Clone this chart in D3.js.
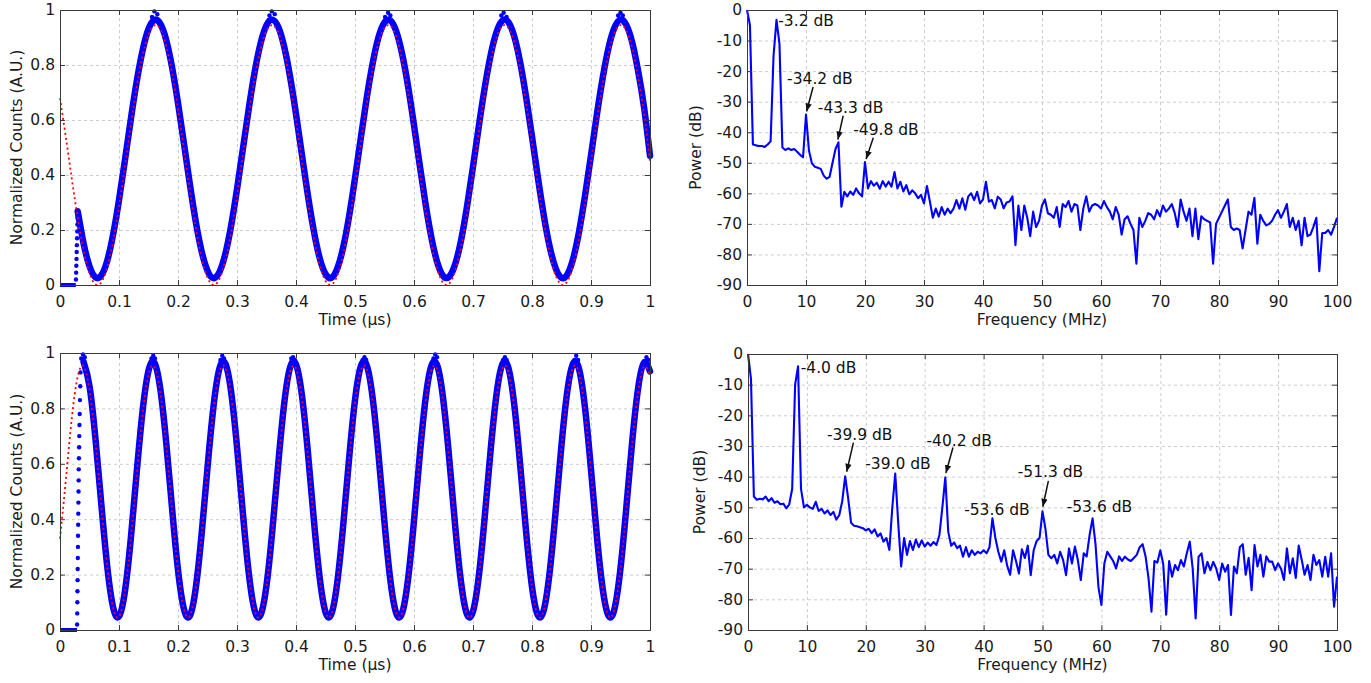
<!DOCTYPE html>
<html lang="en">
<head>
  <meta charset="UTF-8">
  <title>Normalized counts and power spectra</title>
  <style>
    body { margin: 0; background: #fff; }
    svg { display: block; }
  </style>
</head>
<body>
  <div id="chart"></div>
  <script src="https://d3js.org/d3.v7.min.js"></script>
  <script>

    const width = 1371,
          height = 683;

    // ---- time traces, read every 0.01 us ----
    const timeStep = 0.01;

    // top: fit (red dotted) from t = 0
    const topFit = [
      0.679, 0.536, 0.386, 0.245, 0.126, 0.043, 0.003, 0.010, 0.064, 0.159,
      0.285, 0.430, 0.580, 0.719, 0.833, 0.910, 0.944, 0.930, 0.870, 0.770,
      0.640, 0.494, 0.345, 0.209, 0.099, 0.027, 0.000, 0.021, 0.087, 0.191,
      0.325, 0.473, 0.621, 0.754, 0.858, 0.924, 0.945, 0.918, 0.846, 0.736,
      0.600, 0.451, 0.305, 0.175, 0.075, 0.015, 0.001, 0.035, 0.112, 0.226,
      0.365, 0.515, 0.660, 0.787, 0.881, 0.935, 0.942, 0.902, 0.818, 0.700,
      0.559, 0.409, 0.266, 0.143, 0.054, 0.006, 0.006, 0.052, 0.141, 0.263,
      0.407, 0.557, 0.698, 0.817, 0.901, 0.942, 0.935, 0.883, 0.788, 0.662,
      0.517, 0.368, 0.229, 0.114, 0.036, 0.001, 0.014, 0.073, 0.173, 0.302,
      0.449, 0.598, 0.734, 0.844, 0.917, 0.945, 0.925, 0.860, 0.756, 0.623,
      0.450
    ];
    // top: measured counts (blue) from t = 0.03
    const topCountsStart = 0.03;
    const topCounts = [
      0.268, 0.151, 0.068, 0.028, 0.035, 0.088, 0.183,
      0.309, 0.453, 0.602, 0.740, 0.853, 0.931, 0.964, 0.950, 0.891, 0.791,
      0.662, 0.516, 0.368, 0.232, 0.123, 0.052, 0.025, 0.046, 0.111, 0.215,
      0.348, 0.495, 0.642, 0.775, 0.879, 0.945, 0.965, 0.938, 0.866, 0.757,
      0.622, 0.474, 0.328, 0.199, 0.099, 0.040, 0.026, 0.060, 0.137, 0.250,
      0.388, 0.537, 0.682, 0.807, 0.902, 0.955, 0.962, 0.922, 0.839, 0.722,
      0.581, 0.432, 0.289, 0.167, 0.078, 0.031, 0.031, 0.077, 0.165, 0.287,
      0.430, 0.579, 0.719, 0.837, 0.921, 0.962, 0.956, 0.903, 0.809, 0.684,
      0.540, 0.391, 0.253, 0.139, 0.061, 0.026, 0.039, 0.098, 0.197, 0.326,
      0.471, 0.620, 0.755, 0.865, 0.937, 0.965, 0.945, 0.881, 0.777, 0.645,
      0.470
    ];
    // top: flat start, rising edge and the scatter on the crests
    const topBaseT = [0, 0.0268];
    const topBaseV = [0, 0];
    const topRiseT = [0.0271, 0.0274, 0.0277, 0.0280, 0.0283, 0.0286, 0.0289, 0.0292, 0.0295, 0.0298];
    const topRiseV = [0.02, 0.045, 0.07, 0.095, 0.12, 0.145, 0.17, 0.195, 0.22, 0.245];
    const topCrestT = [0.156, 0.160, 0.165, 0.355, 0.359, 0.364, 0.551, 0.556, 0.560,
                       0.748, 0.752, 0.757, 0.946, 0.950, 0.954];
    const topCrestV = [0.975, 0.995, 0.985, 0.980, 0.995, 0.985, 0.975, 0.990, 0.980,
                       0.980, 0.990, 0.975, 0.980, 0.990, 0.980];

    // bottom: fit from t = 0
    const bottomFit = [
      0.330, 0.544, 0.765, 0.915, 0.953, 0.867, 0.682, 0.448, 0.228, 0.081,
      0.048, 0.138, 0.325, 0.560, 0.779, 0.922, 0.950, 0.857, 0.667, 0.431,
      0.215, 0.075, 0.051, 0.148, 0.341, 0.577, 0.792, 0.928, 0.948, 0.846,
      0.651, 0.415, 0.202, 0.069, 0.054, 0.159, 0.357, 0.593, 0.804, 0.933,
      0.944, 0.835, 0.635, 0.398, 0.189, 0.064, 0.057, 0.171, 0.373, 0.610,
      0.817, 0.938, 0.941, 0.824, 0.619, 0.382, 0.177, 0.060, 0.062, 0.182,
      0.389, 0.626, 0.829, 0.942, 0.936, 0.812, 0.603, 0.366, 0.166, 0.056,
      0.066, 0.195, 0.405, 0.642, 0.840, 0.946, 0.931, 0.799, 0.586, 0.350,
      0.154, 0.052, 0.072, 0.207, 0.422, 0.658, 0.851, 0.949, 0.925, 0.786,
      0.570, 0.334, 0.144, 0.050, 0.078, 0.220, 0.438, 0.673, 0.861, 0.951,
      0.919
    ];
    // bottom: measured counts from t = 0.04
    const bottomCountsStart = 0.04;
    const bottomCounts = [
      0.968, 0.881, 0.693, 0.455, 0.231, 0.082,
      0.049, 0.139, 0.330, 0.569, 0.791, 0.936, 0.965, 0.870, 0.677, 0.438,
      0.217, 0.076, 0.051, 0.150, 0.346, 0.586, 0.804, 0.942, 0.963, 0.860,
      0.661, 0.421, 0.204, 0.070, 0.054, 0.161, 0.362, 0.602, 0.817, 0.948,
      0.959, 0.848, 0.645, 0.404, 0.192, 0.065, 0.058, 0.173, 0.378, 0.619,
      0.830, 0.953, 0.955, 0.836, 0.629, 0.388, 0.179, 0.060, 0.062, 0.185,
      0.395, 0.636, 0.842, 0.957, 0.951, 0.824, 0.612, 0.371, 0.168, 0.056,
      0.067, 0.197, 0.411, 0.652, 0.853, 0.961, 0.946, 0.812, 0.595, 0.355,
      0.156, 0.053, 0.072, 0.210, 0.428, 0.668, 0.864, 0.964, 0.940, 0.799,
      0.579, 0.339, 0.146, 0.050, 0.078, 0.223, 0.445, 0.684, 0.875, 0.966,
      0.934
    ];
    const bottomBaseT = [0, 0.0288];
    const bottomBaseV = [0, 0];
    const bottomRiseT = [0.0290, 0.0292, 0.0294, 0.0296, 0.0298, 0.0300, 0.0302, 0.0304, 0.0306, 0.0308,
                         0.0310, 0.0312, 0.0314, 0.0316, 0.0318, 0.0321, 0.0324, 0.0327, 0.0330, 0.0334,
                         0.0338, 0.0343, 0.0348];
    const bottomRiseV = [0.02, 0.06, 0.10, 0.14, 0.18, 0.22, 0.26, 0.30, 0.34, 0.38,
                         0.42, 0.46, 0.50, 0.54, 0.58, 0.62, 0.66, 0.70, 0.74, 0.78,
                         0.83, 0.88, 0.93];
    const bottomCrestT = [0.036, 0.039, 0.042, 0.155, 0.158, 0.161, 0.272, 0.275, 0.278,
                          0.392, 0.395, 0.398, 0.513, 0.516, 0.519, 0.633, 0.636, 0.639,
                          0.751, 0.754, 0.757, 0.872, 0.875, 0.878, 0.990, 0.994, 0.997];
    const bottomCrestV = [0.980, 0.995, 0.985, 0.980, 0.990, 0.980, 0.975, 0.990, 0.980,
                          0.980, 0.985, 0.975, 0.975, 0.985, 0.975, 0.980, 0.995, 0.985,
                          0.975, 0.985, 0.975, 0.975, 0.990, 0.975, 0.970, 0.985, 0.975];

    // ---- power spectra, read every 0.5 MHz from 0 to 100 ----
    const freqStep = 0.5;
    const topPower = [
      0, -5, -44, -44.3, -44.5, -44.5, -44.8, -44, -43, -15,
      -3.2, -11, -45, -45.8, -45.3, -45.8, -45.5, -46.4, -47.4, -48.2,
      -34.2, -46, -50.2, -51.3, -51.6, -52, -54.2, -55.2, -54.6, -50,
      -45.5, -43.3, -64.4, -59.5, -61, -59.4, -60.5, -58.4, -60, -61,
      -49.8, -58.4, -56, -57.5, -56.5, -58.5, -56, -57.8, -56.2, -57.8,
      -53, -58.4, -56.2, -59.4, -57.3, -60.3, -59, -60, -61.6, -60.5,
      -63.3, -57.6, -62.7, -68, -65, -67.6, -64.5, -67, -65, -66.5,
      -65, -62.2, -65, -61.6, -65.4, -61, -60, -62.2, -59.5, -63.3,
      -62, -56.2, -62.7, -62.2, -64.9, -61.1, -62, -64.9, -63, -62.7,
      -61, -77, -64, -72, -64, -68, -74, -66, -71, -69,
      -64, -62, -66.5, -67, -68, -64.5, -71, -63.5, -64.5, -62.5,
      -66, -63.5, -64, -72, -65, -61, -66, -64, -63.5, -64,
      -65, -62.5, -64.5, -66, -68.5, -64.5, -67, -73.5, -68.5, -67.5,
      -70, -72, -83, -68, -71, -69, -66.5, -67, -68.5, -65.5,
      -67.5, -64, -66, -65, -63.5, -66.5, -71, -62, -66, -69,
      -65, -74, -65, -75, -67.5, -68.5, -69, -69.5, -83, -70,
      -68, -66, -64, -62, -71, -72, -71.5, -72, -78, -72,
      -66, -67, -61.5, -76.5, -67, -69, -70.5, -70, -69, -67,
      -65.5, -68, -66, -63.5, -71, -68, -72, -69, -77, -68,
      -74, -73.5, -71, -68, -85.5, -73, -73, -72, -73.5, -71,
      -68
    ];
    const bottomPower = [
      0, -8, -46.5, -47.5, -47.2, -47.4, -46.5, -48, -47, -48.5,
      -48, -49, -48.8, -50.3, -49, -44, -10, -4.0, -44, -50,
      -49.2, -50, -50.5, -48.2, -51.2, -50.5, -52, -51, -52.5, -51.5,
      -54, -52.5, -48, -39.9, -47, -55, -56, -56.2, -56.5, -56.8,
      -57.5, -57, -58.4, -57.2, -59.5, -58.5, -61.2, -60, -63.9, -50,
      -39.0, -55, -69.3, -60, -65.5, -61, -63.9, -60.5, -63, -60.8,
      -62.8, -61.5, -62.5, -61.3, -62.3, -59, -50, -40.2, -58, -62.5,
      -61.5, -63.3, -62.5, -66.1, -63, -66.1, -64, -65.5, -64.5, -65,
      -64, -65, -63, -53.6, -60, -64.5, -67.7, -64, -69, -72,
      -64, -67.5, -71.6, -63.7, -66.5, -62.5, -72.1, -64, -61, -60,
      -51.3, -57, -65.5, -66.6, -65.5, -68.3, -64.5, -67.2, -72.1, -63.4,
      -68.3, -62.8, -67.2, -73.7, -65, -66, -59, -53.6, -62, -76,
      -81.8, -68.3, -64.5, -66, -67.5, -69.9, -66, -67.5, -66.1, -67,
      -67.5, -66.5, -65.5, -63, -62, -66, -73.1, -84, -67.5, -68,
      -64, -68.5, -85, -67.5, -72.6, -68.8, -70.5, -67.2, -69.3, -65,
      -61.2, -70, -86.2, -66.1, -65, -71.5, -67.8, -70.5, -67.8, -70,
      -73.7, -68.3, -71, -68.8, -85.1, -69.3, -71.5, -63, -62, -72,
      -66.5, -77, -62.3, -69.3, -65.5, -72.6, -66, -67.7, -67.7, -70.5,
      -68.3, -70, -73.7, -63.4, -71.5, -66.6, -73, -62.5, -67, -72,
      -68.8, -73.7, -65.5, -68.8, -67.2, -72.6, -66.1, -72.6, -65, -82.4,
      -72.6
    ];

    // peak labels
    const topPeakLabels = ["-3.2 dB", "-34.2 dB", "-43.3 dB", "-49.8 dB"];
    const bottomPeakLabels = ["-4.0 dB", "-39.9 dB", "-39.0 dB", "-40.2 dB", "-53.6 dB", "-51.3 dB", "-53.6 dB"];

    // tick values
    const timeTicks = [0, 0.1, 0.2, 0.3, 0.4, 0.5, 0.6, 0.7, 0.8, 0.9, 1];
    const countTicks = [0, 0.2, 0.4, 0.6, 0.8, 1];
    const freqTicks = [0, 10, 20, 30, 40, 50, 60, 70, 80, 90, 100];
    const powerTicks = [-90, -80, -70, -60, -50, -40, -30, -20, -10, 0];

    // ---- layout ----
    const fontSize = 15.5;
    const boxes = {
      tl: {left: 60, right: 650, top: 10, bottom: 285},
      tr: {left: 747, right: 1337, top: 10, bottom: 285},
      bl: {left: 60, right: 650, top: 353, bottom: 630},
      br: {left: 748, right: 1337, top: 354, bottom: 630}
    };
    // label text anchor (freq, dB) and optional arrow [f0, db0, f1, db1]
    const topLabelLayout = [
      {f: 5.3, db: -5.2, arrow: null},
      {f: 6.8, db: -24.2, arrow: [11.2, -25.2, 10.1, -33.2]},
      {f: 12.0, db: -33.7, arrow: [16.3, -34.6, 15.4, -42.4]},
      {f: 18.0, db: -40.9, arrow: [21.4, -41.8, 20.2, -48.8]}
    ];
    const bottomLabelLayout = [
      {f: 8.95, db: -6.2, arrow: null},
      {f: 13.4, db: -28.0, arrow: [17.9, -28.9, 16.75, -38.4]},
      {f: 19.9, db: -37.5, arrow: null},
      {f: 30.3, db: -30.0, arrow: [34.8, -30.5, 33.6, -38.8]},
      {f: 36.7, db: -52.5, arrow: null},
      {f: 45.8, db: -40.1, arrow: [51.0, -41.4, 50.05, -49.8]},
      {f: 54.1, db: -51.4, arrow: null}
    ];

    const svg = d3.select("#chart")
      .append("svg")
      .attr("width", width)
      .attr("height", height)
      .attr("font-family", "'DejaVu Sans', sans-serif");

    svg.append("defs").append("marker")
      .attr("id", "arrow")
      .attr("viewBox", "0 0 10 10")
      .attr("refX", 10)
      .attr("refY", 5)
      .attr("markerWidth", 8)
      .attr("markerHeight", 8)
      .attr("markerUnits", "userSpaceOnUse")
      .attr("orient", "auto")
      .append("path")
      .attr("d", "M0,1L10,5L0,9Z")
      .attr("fill", "#111");

    function panel(box, xDomain, yDomain, xTicks, yTicks, xTitle, yTitle, yTitleX) {
      const x = d3.scaleLinear(xDomain, [box.left, box.right]);
      const y = d3.scaleLinear(yDomain, [box.bottom, box.top]);
      const h = box.bottom - box.top;
      const w = box.right - box.left;

      const grid = svg.append("g");
      const data = svg.append("g");
      const axes = svg.append("g");

      // dotted grid
      grid.append("g")
        .attr("transform", `translate(0,${box.bottom})`)
        .call(d3.axisBottom(x).tickValues(xTicks.slice(1, -1)).tickSize(-h).tickFormat(""))
        .call(a => a.select(".domain").remove());
      grid.append("g")
        .attr("transform", `translate(${box.left},0)`)
        .call(d3.axisLeft(y).tickValues(yTicks.slice(1, -1)).tickSize(-w).tickFormat(""))
        .call(a => a.select(".domain").remove());
      grid.selectAll("line")
        .attr("stroke", "#cccccc")
        .attr("stroke-dasharray", "3,3");

      // inward ticks on all four sides
      axes.append("g")
        .attr("transform", `translate(0,${box.bottom})`)
        .call(d3.axisBottom(x).tickValues(xTicks).tickSize(-5).tickPadding(11).tickFormat(d => String(d)));
      axes.append("g")
        .attr("transform", `translate(0,${box.top})`)
        .call(d3.axisTop(x).tickValues(xTicks).tickSize(-5).tickFormat(""));
      axes.append("g")
        .attr("transform", `translate(${box.left},0)`)
        .call(d3.axisLeft(y).tickValues(yTicks).tickSize(-5).tickPadding(5).tickFormat(d => String(d)));
      axes.append("g")
        .attr("transform", `translate(${box.right},0)`)
        .call(d3.axisRight(y).tickValues(yTicks).tickSize(-5).tickFormat(""));

      axes.selectAll("g")
        .attr("font-family", null)
        .attr("font-size", null);
      axes.selectAll(".domain, .tick line").attr("stroke", "#3a3a3a");
      axes.selectAll("text").attr("fill", "#1a1a1a").style("font-size", fontSize + "px");

      axes.append("text")
        .attr("x", (box.left + box.right) / 2)
        .attr("y", box.bottom + 40)
        .attr("text-anchor", "middle")
        .attr("fill", "#1a1a1a")
        .style("font-size", fontSize + "px")
        .text(xTitle);

      axes.append("text")
        .attr("transform", `translate(${yTitleX},${(box.top + box.bottom) / 2}) rotate(-90)`)
        .attr("text-anchor", "middle")
        .attr("fill", "#1a1a1a")
        .style("font-size", fontSize + "px")
        .text(yTitle);

      return {x, y, data};
    }

    function drawTrace(p, fit, counts, countsStart, baseT, baseV, riseT, riseV, crestT, crestV) {
      const band = d3.line()
        .x((d, i) => p.x(countsStart + i * timeStep))
        .y(d => p.y(d))
        .curve(d3.curveNatural);

      p.data.append("path")
        .datum(d3.zip(baseT, baseV))
        .attr("d", d3.line().x(d => p.x(d[0])).y(d => p.y(d[1])))
        .attr("fill", "none")
        .attr("stroke", "#0000ff")
        .attr("stroke-width", 4);

      p.data.append("g")
        .selectAll("circle")
        .data(d3.zip(riseT, riseV).concat(d3.zip(crestT, crestV)))
        .join("circle")
        .attr("cx", d => p.x(d[0]))
        .attr("cy", d => p.y(d[1]))
        .attr("r", 2.2)
        .attr("fill", "#0000ff");

      p.data.append("path")
        .datum(counts)
        .attr("d", band)
        .attr("fill", "none")
        .attr("stroke", "#0000ff")
        .attr("stroke-width", 6.5)
        .attr("stroke-linejoin", "round")
        .attr("stroke-linecap", "round");

      p.data.append("path")
        .datum(fit)
        .attr("d", d3.line()
          .x((d, i) => p.x(i * timeStep))
          .y(d => p.y(d))
          .curve(d3.curveNatural))
        .attr("fill", "none")
        .attr("stroke", "#ff0000")
        .attr("stroke-width", 1.8)
        .attr("stroke-dasharray", "2,3");
    }

    function drawSpectrum(p, power, labels, layout) {
      p.data.append("path")
        .datum(power)
        .attr("d", d3.line()
          .x((d, i) => p.x(i * freqStep))
          .y(d => p.y(d)))
        .attr("fill", "none")
        .attr("stroke", "#0000ff")
        .attr("stroke-width", 2.1)
        .attr("stroke-linejoin", "round");

      const notes = p.data.append("g");
      notes.selectAll("text")
        .data(labels)
        .join("text")
        .attr("x", (d, i) => p.x(layout[i].f))
        .attr("y", (d, i) => p.y(layout[i].db))
        .attr("fill", "#111")
        .style("font-size", fontSize + "px")
        .text(d => d);

      notes.selectAll("line")
        .data(layout.filter(d => d.arrow))
        .join("line")
        .attr("x1", d => p.x(d.arrow[0]))
        .attr("y1", d => p.y(d.arrow[1]))
        .attr("x2", d => p.x(d.arrow[2]))
        .attr("y2", d => p.y(d.arrow[3]))
        .attr("stroke", "#111")
        .attr("stroke-width", 1.5)
        .attr("marker-end", "url(#arrow)");
    }

    const tl = panel(boxes.tl, [0, 1], [0, 1], timeTicks, countTicks, "Time (\u00b5s)", "Normalized Counts (A.U.)", 22);
    const tr = panel(boxes.tr, [0, 100], [-90, 0], freqTicks, powerTicks, "Frequency (MHz)", "Power (dB)", 701);
    const bl = panel(boxes.bl, [0, 1], [0, 1], timeTicks, countTicks, "Time (\u00b5s)", "Normalized Counts (A.U.)", 22);
    const br = panel(boxes.br, [0, 100], [-90, 0], freqTicks, powerTicks, "Frequency (MHz)", "Power (dB)", 705);

    drawTrace(tl, topFit, topCounts, topCountsStart, topBaseT, topBaseV, topRiseT, topRiseV, topCrestT, topCrestV);
    drawTrace(bl, bottomFit, bottomCounts, bottomCountsStart, bottomBaseT, bottomBaseV, bottomRiseT, bottomRiseV, bottomCrestT, bottomCrestV);
    drawSpectrum(tr, topPower, topPeakLabels, topLabelLayout);
    drawSpectrum(br, bottomPower, bottomPeakLabels, bottomLabelLayout);

  </script>
</body>
</html>
